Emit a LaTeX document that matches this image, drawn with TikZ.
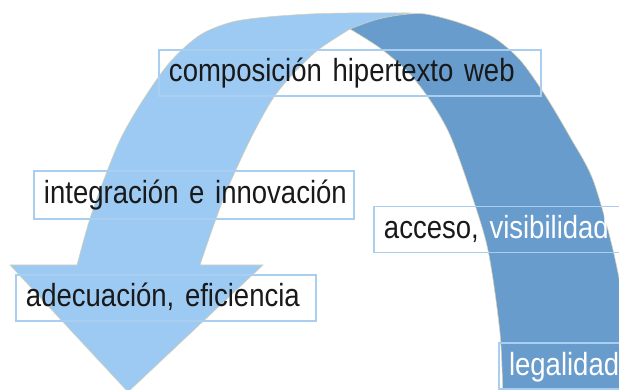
\documentclass[tikz,border=0pt]{standalone}
\usepackage{fontspec}
\setmainfont{Liberation Sans}[FakeStretch=0.86]
\usepackage{tikz}
\usepackage{xcolor}

\begin{document}
\begin{tikzpicture}[x=1pt, y=-1pt, labelbox/.style={draw={BOX_BLUE!100}, line width={0.7mm}, anchor=west, align=left, inner xsep=10pt, inner ysep=2pt, minimum height=46pt, text height=25pt, text depth=7pt, font={\fontsize{32}{38}\selectfont\spaceskip=6.5pt}, text={ALMOST_BLACK!100}}]
				\definecolor{WHITE}{RGB}{255, 255, 255}
				\definecolor{ALMOST_BLACK}{RGB}{25, 25, 25}
				\definecolor{LIGHT_BLUE}{RGB}{157, 202, 242}
				\definecolor{DARK_BLUE}{RGB}{103, 156, 204}
				\definecolor{BOX_BLUE}{RGB}{170, 206, 240}
				\definecolor{EDGE_TAN}{RGB}{214, 208, 180}
				\clip (0, 0) rectangle (619, 390);
				
				\begin{scope}
					\draw[line width={0.2mm}, color={EDGE_TAN!100}, fill={LIGHT_BLUE!100}] plot[smooth] coordinates 
						{(77, 265) (88, 225) (100, 190) (120, 140) (143, 100) (170, 62) (200, 35) (232, 22) 
						(267, 17) (310, 14) (350, 13) (410, 13)} -- (350, 29) -- plot[smooth] coordinates 
						{(350, 29) (318, 50) (292, 75) (272, 100) (250, 140) (227, 190) (212, 230) (200, 265)} 
						-- (263, 265) -- (128, 392) -- (10, 265) -- cycle;
				\end{scope}
				
				\begin{scope}
					\draw[line width={0.2mm}, color={EDGE_TAN!100}, fill={DARK_BLUE!100}] plot[smooth] coordinates 
						{(350, 29) (375, 20) (400, 15) (425, 14) (460, 23) (493, 37) (520, 60) (545, 95) 
						(570, 137) (593, 180) (613, 250) (626, 320) (632, 400)} -- (503, 400) -- plot[smooth] 
						coordinates {(503, 400) (500, 333) (488, 250) (470, 190) (450, 135) (430, 100) 
						(408, 72) (380, 48) (350, 29)} -- cycle;
				\end{scope}
				
				\node[labelbox, text width=362pt] (composicion) at (158, 73) {composición hipertexto web};
				\node[labelbox, text width=300pt, minimum height=48pt] (integracion) at (33, 195) {\mbox{integración e innovación}};
				\node[labelbox, text width=252pt] (acceso) at (373, 229.5) {acceso, \textcolor{WHITE}{visibilidad}};
				\node[labelbox, text width=280pt] (adecuacion) at (15, 298) {adecuación, eficiencia};
				\node[labelbox, text width=130pt] (legalidad) at (498, 366) {\textcolor{WHITE}{legalidad}};
			\end{tikzpicture}
\end{document}
